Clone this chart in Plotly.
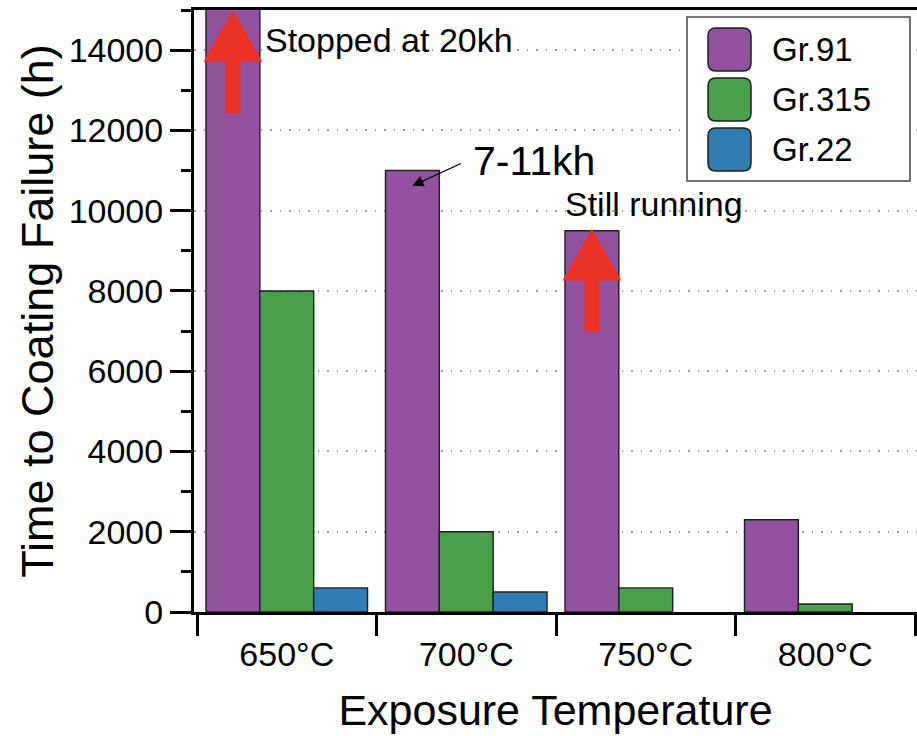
import plotly.graph_objects as go

# ---- data -------------------------------------------------------------
categories = ["650°C", "700°C", "750°C", "800°C"]
series_names = ["Gr.91", "Gr.315", "Gr.22"]
gr91_hours = [20000, 11000, 9500, 2300]   # 650°C test stopped at 20 kh
gr315_hours = [8000, 2000, 600, 200]
gr22_hours = [600, 500]                    # no Gr.22 result at 750/800°C
y_tick_values = [0, 2000, 4000, 6000, 8000, 10000, 12000, 14000]
y_tick_labels = [str(v) for v in y_tick_values]

# ---- styling ------------------------------------------------------------
W, H = 917, 736
MARGIN = dict(l=194, r=0, t=10, b=124)
FONT = "Liberation Sans, Arial, Helvetica, sans-serif"
COLORS = ["#9252A0", "#4A9F4A", "#327CB6"]
EDGE = "#1f1f1f"
RED = "#EA3227"
Y_MAX = 15000
X_RANGE = [-0.5167, 3.511]

x_pos = list(range(len(categories)))
n_series = len(series_names)
bargap = 0.1
bar_w = (1 - bargap) / n_series

fig = go.Figure()
for name, vals, col in zip(series_names, [gr91_hours, gr315_hours, gr22_hours], COLORS):
    fig.add_bar(
        x=x_pos[:len(vals)], y=vals, name=name,
        marker=dict(color=col, line=dict(color=EDGE, width=1.4)),
        showlegend=False, hoverinfo="x+y+name",
    )

fig.update_layout(
    width=W, height=H, margin=MARGIN,
    barmode="group", bargap=bargap, bargroupgap=0,
    plot_bgcolor="white", paper_bgcolor="white",
    font=dict(family=FONT, color="black"),
    xaxis=dict(
        range=X_RANGE, tickmode="array", tickvals=x_pos, ticktext=categories,
        ticks="outside", ticklen=10, tickwidth=3, tickcolor="rgba(0,0,0,0)",
        minor=dict(tickmode="array", tickvals=[i - 0.5 for i in range(len(categories) + 1)],
                   ticks="outside", ticklen=21, tickwidth=3, tickcolor="black",
                   showgrid=False),
        showline=True, linewidth=3, linecolor="black", mirror=True,
        showgrid=False, zeroline=False,
        tickfont=dict(size=34),
        title=dict(text="Exposure Temperature", font=dict(size=43), standoff=24),
    ),
    yaxis=dict(
        range=[0, Y_MAX], tickmode="array", tickvals=y_tick_values, ticktext=y_tick_labels,
        ticks="outside", ticklen=21, tickwidth=3, tickcolor="black",
        minor=dict(dtick=1000, tick0=0, ticks="outside", ticklen=10, tickwidth=3,
                   tickcolor="black", showgrid=False),
        showline=True, linewidth=3, linecolor="black",
        showgrid=True, gridcolor="#9a9a9a", gridwidth=1.5, griddash="1.5px,8px",
        zeroline=False,
        tickfont=dict(size=34), ticklabelstandoff=0,
        title=dict(text="Time to Coating Failure (h)", font=dict(size=45), standoff=1),
    ),
)

# ---- red "continuing" arrows on top of Gr.91 bars -------------------------
def up_arrow(xc, tip, head_len=1290, shaft_len=1290, head_hw=0.164, shaft_hw=0.042):
    base = tip - head_len
    bottom = base - shaft_len
    return (f"M {xc} {tip} L {xc + head_hw} {base} L {xc + shaft_hw} {base} "
            f"L {xc + shaft_hw} {bottom} L {xc - shaft_hw} {bottom} "
            f"L {xc - shaft_hw} {base} L {xc - head_hw} {base} Z")

gr91_offset = -bar_w  # first bar of each group
for cat_idx, tip in [(0, min(gr91_hours[0], Y_MAX)), (2, gr91_hours[2] + 50)]:
    fig.add_shape(type="path", xref="x", yref="y",
                  path=up_arrow(x_pos[cat_idx] + gr91_offset, tip),
                  fillcolor=RED, line=dict(width=0), layer="above")

# ---- text notes -----------------------------------------------------------
fig.add_annotation(x=-0.132, y=14250, xref="x", yref="y", text="Stopped at 20kh",
                   showarrow=False, xanchor="left", yanchor="middle",
                   font=dict(size=34, family=FONT))
fig.add_annotation(x=1.539, y=10170, xref="x", yref="y", text="Still running",
                   showarrow=False, xanchor="left", yanchor="middle",
                   font=dict(size=34, family=FONT))
fig.add_annotation(x=1.025, y=11250, xref="x", yref="y", text="7-11kh",
                   showarrow=False, xanchor="left", yanchor="middle",
                   font=dict(size=41, family=FONT))
# arrow pointing at the 700°C Gr.91 bar
fig.add_annotation(x=x_pos[1] + gr91_offset, y=gr91_hours[1] - 380, xref="x", yref="y",
                   text="", showarrow=True, ax=50, ay=-23,
                   arrowhead=2, arrowsize=1.7, arrowwidth=1.3, arrowcolor="black")

# ---- legend box with rounded swatches -------------------------------------
plot_w = W - MARGIN["l"] - MARGIN["r"]
plot_h = H - MARGIN["t"] - MARGIN["b"]

def px_to_paper(px, py):
    return (px - MARGIN["l"]) / plot_w, (H - MARGIN["b"] - py) / plot_h

def rounded_rect(x0, y0, x1, y1, r):
    def p(x, y):
        u, v = px_to_paper(x, y)
        return f"{u:.5f} {v:.5f}"
    return (f"M {p(x0 + r, y0)} L {p(x1 - r, y0)} Q {p(x1, y0)} {p(x1, y0 + r)} "
            f"L {p(x1, y1 - r)} Q {p(x1, y1)} {p(x1 - r, y1)} "
            f"L {p(x0 + r, y1)} Q {p(x0, y1)} {p(x0, y1 - r)} "
            f"L {p(x0, y0 + r)} Q {p(x0, y0)} {p(x0 + r, y0)} Z")

bx0, by0 = px_to_paper(687, 181)
bx1, by1 = px_to_paper(910, 17)
fig.add_shape(type="rect", xref="paper", yref="paper", x0=bx0, y0=by0, x1=bx1, y1=by1,
              fillcolor="white", line=dict(color="#444444", width=1.5), layer="above")

for i, (name, col) in enumerate(zip(series_names, COLORS)):
    top = 28 + 50 * i
    fig.add_shape(type="path", xref="paper", yref="paper",
                  path=rounded_rect(708, top, 751, top + 43, 8),
                  fillcolor=col, line=dict(color=EDGE, width=1.5), layer="above")
    tx, ty = px_to_paper(770, top + 21.5)
    fig.add_annotation(x=tx, y=ty, xref="paper", yref="paper", text=name,
                       showarrow=False, xanchor="left", yanchor="middle",
                       font=dict(size=33, family=FONT))

fig.write_html("out.html")
